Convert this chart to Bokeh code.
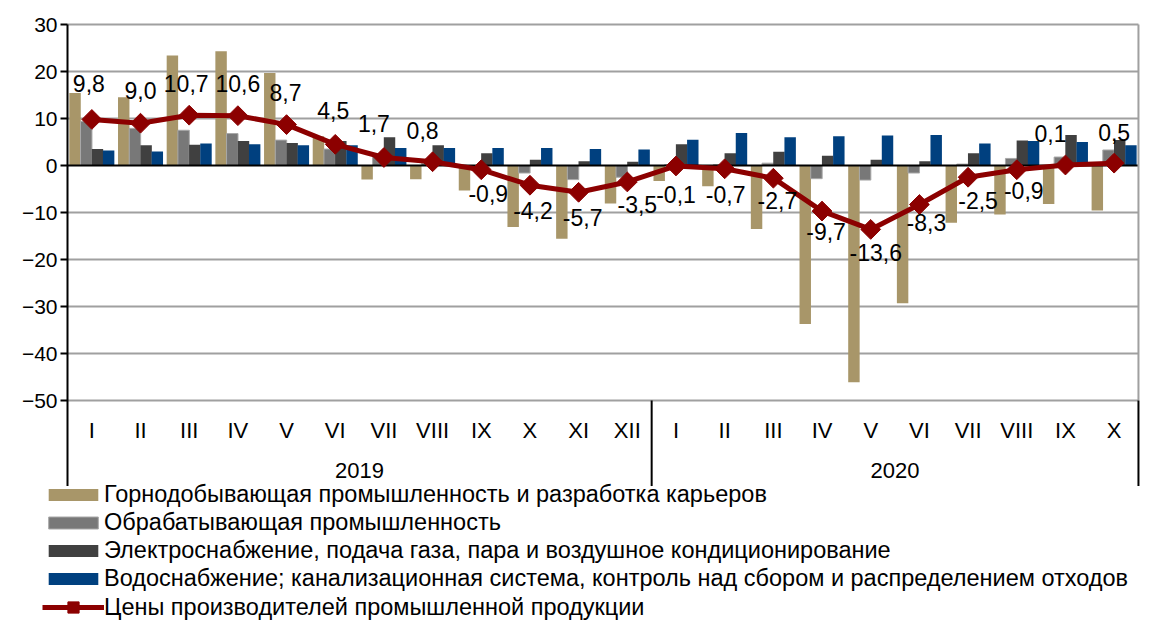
import numpy as np
from bokeh.plotting import figure
from bokeh.models import ColumnDataSource, FixedTicker, Legend, LegendItem, Range1d
from bokeh.core.properties import value
from bokeh.embed import file_html
from bokeh.resources import INLINE
from bokeh.transform import dodge

# ---------------- data ----------------
months = ["I", "II", "III", "IV", "V", "VI", "VII", "VIII", "IX", "X", "XI", "XII",
          "I", "II", "III", "IV", "V", "VI", "VII", "VIII", "IX", "X"]
years = ["2019", "2020"]
year_months = [12, 10]

mining = [15.4, 14.5, 23.4, 24.3, 19.7, 6.2, -3.0, -2.9, -5.3, -13.1, -15.6, -8.1,
          -3.3, -4.4, -13.5, -33.7, -46.1, -29.3, -12.2, -10.4, -8.2, -9.6]
manufacturing = [9.4, 7.9, 7.5, 6.8, 5.4, 3.5, 2.0, 0.5, -0.4, -1.6, -3.0, -2.5,
                 0.2, 0.2, 0.5, -2.8, -3.1, -1.6, 0.3, 1.5, 1.8, 3.3]
electricity = [3.5, 4.3, 4.4, 5.2, 4.8, 5.2, 6.0, 4.3, 2.6, 1.2, 0.9, 0.8,
               4.5, 2.6, 2.9, 2.1, 1.2, 0.9, 2.6, 5.3, 6.5, 5.4]
water = [3.2, 3.0, 4.7, 4.5, 4.3, 4.3, 3.7, 3.7, 3.7, 3.7, 3.5, 3.4,
         5.5, 6.9, 6.0, 6.2, 6.4, 6.5, 4.7, 5.2, 5.0, 4.3]
ppi = [9.8, 9.0, 10.7, 10.6, 8.7, 4.5, 1.7, 0.8, -0.9, -4.2, -5.7, -3.5,
       -0.1, -0.7, -2.7, -9.7, -13.6, -8.3, -2.5, -0.9, 0.1, 0.5]

series_names = [
    "Горнодобывающая промышленность и разработка карьеров",
    "Обрабатывающая промышленность",
    "Электроснабжение, подача газа, пара и воздушное кондиционирование",
    "Водоснабжение; канализационная система, контроль над сбором и распределением отходов",
    "Цены производителей промышленной продукции",
]
y_ticks = [-50, -40, -30, -20, -10, 0, 10, 20, 30]

# label placement (screen pixel offsets, styling only)
label_dx = [-3, 0, -3, 0, -1, -2, -10, -10, 7, 3, 4, 10, 0, 1, 4, 4, 5, 7, 10, 7, -15, 0]
label_dy = [-36, -33, -32, -32, -32, -34, -34, -31, 24, 25, 25, 23, 29, 26, 22, 20, 23, 18, 23, 21, -32, -31]

# ---------------- styling ----------------
FONT = value("Liberation Sans")
C_TAN = "#A89669"
C_GRAY = "#787878"
C_DARK = "#404040"
C_BLUE = "#00407F"
C_RED = "#8C0000"
C_GRID = "#a0a0a0"
PX_PER_UNIT = 4.7
W, H = 1150, 621
TOP_BORDER, LEFT_BORDER, RIGHT_BORDER = 0, 0, 10
PLOT_TOP_PX = 24           # where the value 30 sits
PLOT_LEFT_PX = 67          # where the category axis starts
CAT_PX = 48.68             # width of one category
Y_TOP = 30 + (PLOT_TOP_PX - TOP_BORDER) / PX_PER_UNIT
Y_BOTTOM = Y_TOP - (H - TOP_BORDER) / PX_PER_UNIT
AXIS_BOTTOM = -68.2
MONTH_Y = -56.4
YEAR_Y = -64.9

n = len(months)
X_START = -(PLOT_LEFT_PX - LEFT_BORDER) / CAT_PX
X_END = X_START + (W - LEFT_BORDER - RIGHT_BORDER) / CAT_PX

xc = np.arange(n) + 0.5
src = ColumnDataSource(dict(
    x=xc, mining=mining, manufacturing=manufacturing, electricity=electricity,
    water=water, ppi=ppi, month=months,
    lab=[f"{v:.1f}".replace(".", ",") for v in ppi], dx=label_dx, dy=label_dy,
))

p = figure(width=W, height=H, x_range=Range1d(X_START, X_END), y_range=Range1d(Y_BOTTOM, Y_TOP),
           output_backend="svg", toolbar_location=None,
           min_border_left=LEFT_BORDER, min_border_right=RIGHT_BORDER,
           min_border_top=TOP_BORDER, min_border_bottom=0)
p.outline_line_color = None
p.background_fill_color = "white"
p.xaxis.visible = False
p.xgrid.visible = False
p.ygrid.visible = False

p.yaxis.fixed_location = 0
p.yaxis.ticker = FixedTicker(ticks=y_ticks)
p.yaxis.axis_line_color = None
p.yaxis.major_tick_in = 0
p.yaxis.major_tick_out = 7
p.yaxis.major_tick_line_color = "black"
p.yaxis.major_tick_line_width = 2
p.yaxis.minor_tick_line_color = None
p.yaxis.major_label_text_font = "Liberation Sans"
p.yaxis.major_label_text_font_size = "21px"
p.yaxis.major_label_text_color = "black"
p.yaxis.major_label_standoff = 3

bounds = np.concatenate([[0], np.cumsum(year_months)])

# horizontal grid lines across the category area
grid_y = [t for t in y_ticks if t != 0]
p.segment(x0=[bounds[0]] * len(grid_y), y0=grid_y, x1=[bounds[-1]] * len(grid_y), y1=grid_y,
          line_color=C_GRID, line_width=2)

# bars
offs = [-0.345, -0.115, 0.115, 0.345]
bw = 0.235
r1 = p.vbar(x=dodge("x", offs[0], range=p.x_range), top="mining", bottom=0, width=bw,
            source=src, fill_color=C_TAN, line_color=None)
r2 = p.vbar(x=dodge("x", offs[1], range=p.x_range), top="manufacturing", bottom=0, width=bw,
            source=src, fill_color=C_GRAY, line_color="#a8a8a8", line_width=1)
r3 = p.vbar(x=dodge("x", offs[2], range=p.x_range), top="electricity", bottom=0, width=bw,
            source=src, fill_color=C_DARK, line_color=None)
r4 = p.vbar(x=dodge("x", offs[3], range=p.x_range), top="water", bottom=0, width=bw,
            source=src, fill_color=C_BLUE, line_color=None)

# zero line
p.segment(x0=[bounds[0]], y0=[0], x1=[bounds[-1]], y1=[0], line_color="black", line_width=2)

# frame / category axis lines
p.segment(x0=[bounds[0]], y0=[30], x1=[bounds[0]], y1=[AXIS_BOTTOM], line_color="black", line_width=2)
p.segment(x0=[bounds[-1]], y0=[30], x1=[bounds[-1]], y1=[-50], line_color=C_GRID, line_width=2)
p.segment(x0=list(bounds[1:]), y0=[-50] * (len(bounds) - 1), x1=list(bounds[1:]),
          y1=[AXIS_BOTTOM] * (len(bounds) - 1), line_color="black", line_width=2)

# month / year labels
p.text(x="x", y=MONTH_Y, text="month", source=src, text_align="center", text_baseline="middle",
       text_font=FONT, text_font_size="22px", text_color="black")
year_x = [(bounds[i] + bounds[i + 1]) / 2 for i in range(len(years))]
p.text(x=year_x, y=[YEAR_Y] * len(years), text=years, text_align="center", text_baseline="middle",
       text_font=FONT, text_font_size="22px", text_color="black")

# line
r5 = p.line(x="x", y="ppi", source=src, line_color=C_RED, line_width=5)
r6 = p.scatter(x="x", y="ppi", source=src, marker="square", angle=np.pi / 4, size=14,
               fill_color=C_RED, line_color=C_RED)
p.text(x="x", y="ppi", text="lab", source=src, x_offset="dx", y_offset="dy",
       text_align="center", text_baseline="middle", text_font=FONT,
       text_font_size="23px", text_color="black")


def style_legend(lg, glyph_h):
    lg.border_line_color = None
    lg.background_fill_alpha = 0
    lg.margin = 0
    lg.padding = 0
    lg.spacing = 1
    lg.glyph_width = 62
    lg.glyph_height = glyph_h
    lg.label_height = 27
    lg.label_standoff = 0
    lg.label_text_font = "Liberation Sans"
    lg.label_text_font_size = "23.5px"
    lg.label_text_color = "black"


legend_line = Legend(items=[LegendItem(label=series_names[4], renderers=[r5, r6])], location=(42, 0))
style_legend(legend_line, 28)
legend_bars = Legend(items=[
    LegendItem(label=series_names[0], renderers=[r1]),
    LegendItem(label=series_names[1], renderers=[r2]),
    LegendItem(label=series_names[2], renderers=[r3]),
    LegendItem(label=series_names[3], renderers=[r4]),
], location=(42, 29))
style_legend(legend_bars, 15)
p.add_layout(legend_bars, "center")
p.add_layout(legend_line, "center")

open("out.html", "w").write(file_html(p, INLINE))
